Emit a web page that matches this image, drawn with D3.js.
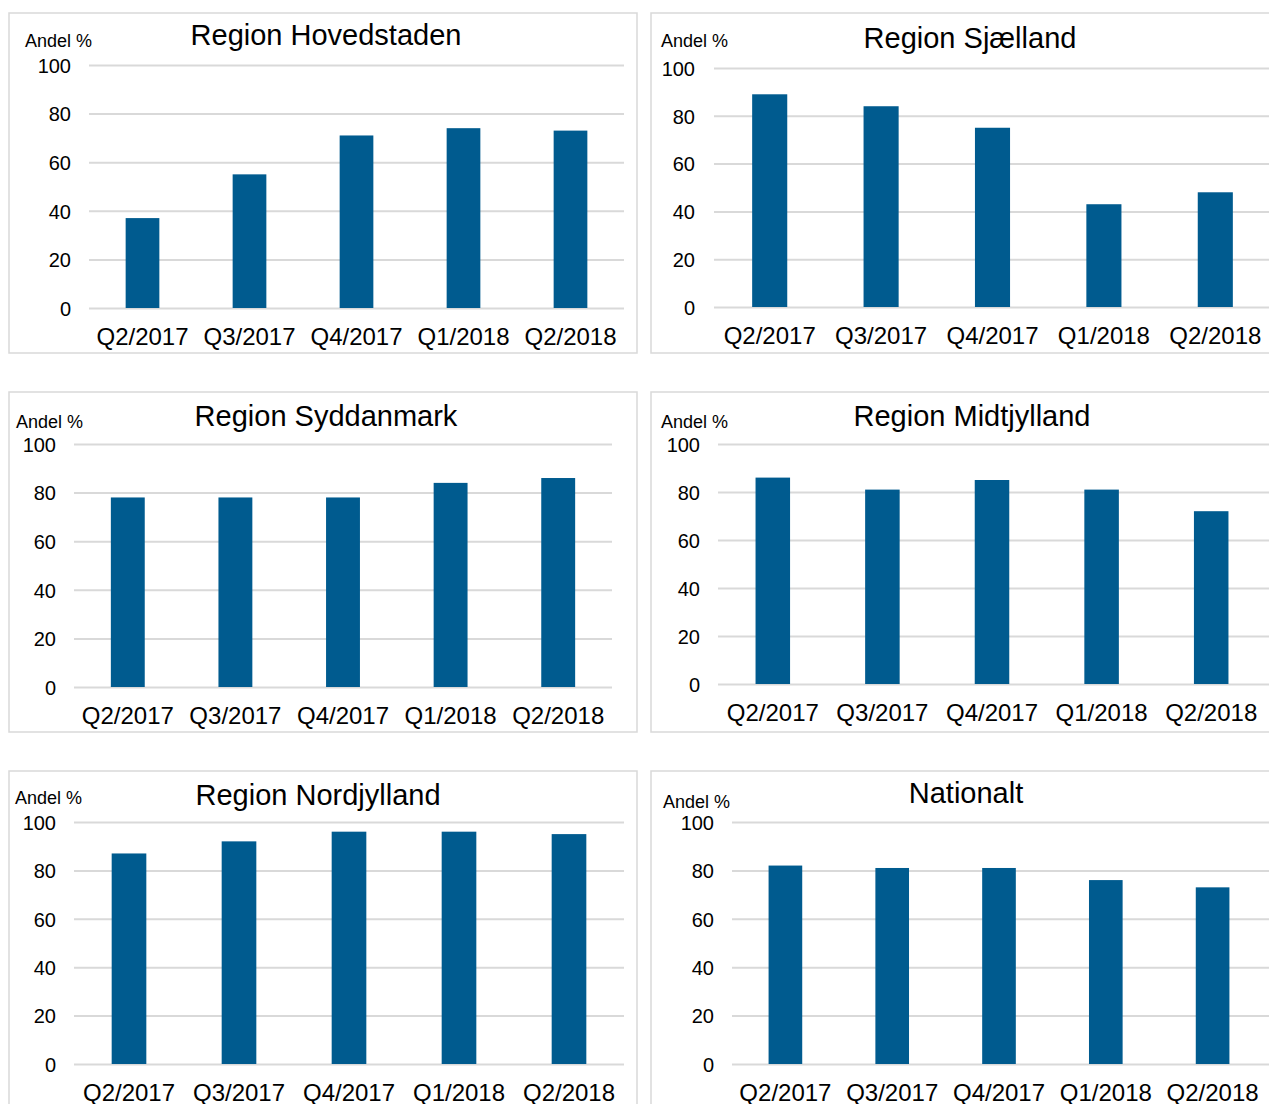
<!DOCTYPE html>
<html>
<head>
<meta charset="utf-8">
<script src="https://cdn.jsdelivr.net/npm/d3@7"></script>
<style>
  html, body { margin: 0; padding: 0; background: #ffffff; }
  svg { display: block; font-family: "Liberation Sans", Arial, sans-serif; }
</style>
</head>
<body>
<svg id="chart" width="1269" height="1104"></svg>
<script>
// Quarters on the x axis
const quarters = ["Q2/2017", "Q3/2017", "Q4/2017", "Q1/2018", "Q2/2018"];
// Panel titles
const regionNames = ["Region Hovedstaden", "Region Sjælland", "Region Syddanmark",
                     "Region Midtjylland", "Region Nordjylland", "Nationalt"];
// Share (%) per quarter
const hovedstaden = [37, 55, 71, 74, 73];
const sjaelland   = [89, 84, 75, 43, 48];
const syddanmark  = [78, 78, 78, 84, 86];
const midtjylland = [86, 81, 85, 81, 72];
const nordjylland = [87, 92, 96, 96, 95];
const nationalt   = [82, 81, 81, 76, 73];
// Y-axis ticks
const yTicks = [0, 20, 40, 60, 80, 100];
const yLabel = "Andel %";

const seriesList = [hovedstaden, sjaelland, syddanmark, midtjylland, nordjylland, nationalt];

// Panel layout: frame box, plot area, label anchors
const layout = [
  { box: [9, 13, 637, 353],    x0: 89,  x1: 624,  gridEnd: 624,  yTop: 65,  yBase: 308,  tickX: 71,  axX: 25,  axY: 47,  tX: 326, tY: 45 },
  { box: [651, 13, 1280, 353], x0: 714, x1: 1271, gridEnd: 1269, yTop: 68,  yBase: 307,  tickX: 695, axX: 661, axY: 47,  tX: 970, tY: 48 },
  { box: [9, 392, 637, 732],   x0: 74,  x1: 612,  gridEnd: 612,  yTop: 444, yBase: 687,  tickX: 56,  axX: 16,  axY: 428, tX: 326, tY: 426 },
  { box: [651, 392, 1280, 732],x0: 718, x1: 1266, gridEnd: 1269, yTop: 444, yBase: 684,  tickX: 700, axX: 661, axY: 428, tX: 972, tY: 426 },
  { box: [9, 771, 637, 1120],  x0: 74,  x1: 624,  gridEnd: 624,  yTop: 822, yBase: 1064, tickX: 56,  axX: 15,  axY: 804, tX: 318, tY: 805 },
  { box: [651, 771, 1280, 1120],x0: 732, x1: 1266, gridEnd: 1269, yTop: 822, yBase: 1064, tickX: 714, axX: 663, axY: 808, tX: 966, tY: 803 }
];

const BAR = "#005b8f";
const GRID = "#d9d9d9";
const svg = d3.select("#chart");

layout.forEach((L, i) => {
  const values = seriesList[i];
  const g = svg.append("g");

  // frame
  g.append("rect")
    .attr("x", L.box[0]).attr("y", L.box[1])
    .attr("width", L.box[2] - L.box[0]).attr("height", L.box[3] - L.box[1])
    .attr("fill", "#ffffff").attr("stroke", GRID).attr("stroke-width", 1.5);

  const x = d3.scaleBand().domain(quarters).range([L.x0, L.x1])
    .paddingInner(0.685).paddingOuter(0.3425);
  const y = d3.scaleLinear().domain([0, 100]).range([L.yBase, L.yTop]);

  // gridlines + tick labels
  const yAxis = d3.axisLeft(y).tickValues(yTicks).tickSize(-(L.gridEnd - L.x0)).tickPadding(L.x0 - L.tickX);
  const ya = g.append("g").attr("transform", `translate(${L.x0},0)`).call(yAxis);
  ya.select(".domain").remove();
  ya.selectAll(".tick line").attr("stroke", GRID).attr("stroke-width", 2);
  ya.selectAll(".tick text")
    .attr("font-size", 20).attr("fill", "#000").attr("font-family", "Liberation Sans, Arial, sans-serif")
    .attr("dy", "0.36em");

  // bars
  g.selectAll("rect.bar").data(values).enter().append("rect")
    .attr("class", "bar")
    .attr("x", (d, j) => x(quarters[j]))
    .attr("width", x.bandwidth())
    .attr("y", d => y(d))
    .attr("height", d => y(0) - y(d))
    .attr("fill", BAR);

  // category labels
  const xAxis = d3.axisBottom(x).tickSize(0).tickPadding(0);
  const xa = g.append("g").attr("transform", `translate(0,${L.yBase})`).call(xAxis);
  xa.select(".domain").remove();
  xa.selectAll(".tick text")
    .attr("font-size", 24).attr("fill", "#000").attr("font-family", "Liberation Sans, Arial, sans-serif")
    .attr("y", 37).attr("dy", 0);

  // y-axis caption
  g.append("text").attr("x", L.axX).attr("y", L.axY)
    .attr("font-size", 18).attr("fill", "#000").text(yLabel);

  // title
  g.append("text").attr("x", L.tX).attr("y", L.tY)
    .attr("text-anchor", "middle").attr("font-size", 29).attr("fill", "#000")
    .text(regionNames[i]);
});
</script>
</body>
</html>
